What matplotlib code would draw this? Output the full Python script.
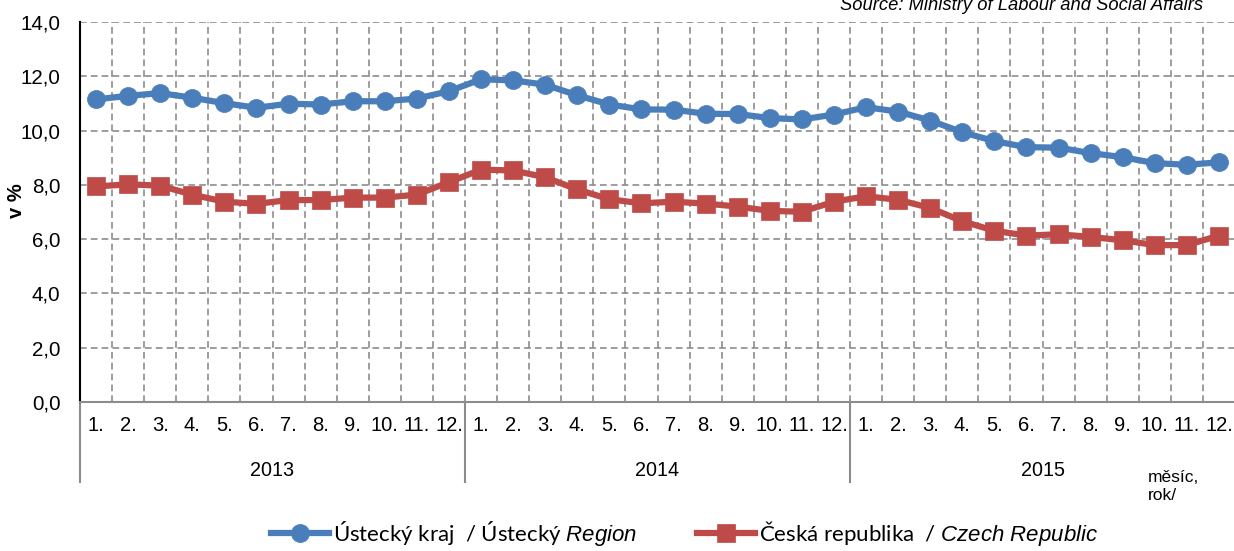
import matplotlib
matplotlib.use('Agg')
import numpy as np
from matplotlib import pyplot as plt
from matplotlib import transforms

plt.rcParams['font.family'] = ['Liberation Sans', 'DejaVu Sans']
plt.rcParams['mathtext.fontset'] = 'custom'
plt.rcParams['mathtext.it'] = 'Liberation Sans:italic'
plt.rcParams['mathtext.rm'] = 'Liberation Sans'

years = ['2013', '2014', '2015']
months = ['1.', '2.', '3.', '4.', '5.', '6.', '7.', '8.', '9.', '10.', '11.', '12.']

usti = [11.15, 11.28, 11.38, 11.21, 11.01, 10.84, 10.99, 10.96, 11.08, 11.08, 11.18, 11.45,
        11.89, 11.85, 11.69, 11.30, 10.96, 10.78, 10.77, 10.62, 10.61, 10.46, 10.41, 10.59,
        10.86, 10.70, 10.37, 9.94, 9.61, 9.39, 9.37, 9.17, 9.02, 8.80, 8.74, 8.83]
czech = [7.94, 8.02, 7.97, 7.64, 7.38, 7.30, 7.44, 7.44, 7.53, 7.53, 7.64, 8.10,
         8.56, 8.53, 8.28, 7.83, 7.47, 7.32, 7.38, 7.31, 7.20, 7.04, 7.01, 7.38,
         7.58, 7.45, 7.15, 6.66, 6.31, 6.13, 6.18, 6.08, 5.96, 5.78, 5.78, 6.13]

label_usti = 'Ústecký kraj  / Ústecký $\\mathit{Region}$'
label_czech = 'Česká republika  / $\\mathit{Czech\\ Republic}$'

BLUE = '#4A7EBB'
RED = '#BE4B48'
GRID = '#8C8C8C'

fig = plt.figure(figsize=(12.34, 5.51), dpi=100)
ax = fig.add_axes([80 / 1234, 1 - 402 / 551, 1155 / 1234, 380 / 551])

n = len(usti)
x = np.arange(n) + 0.5
l1, = ax.plot(x, usti, color=BLUE, lw=4.5, marker='o', ms=13, mec=BLUE, mew=0.5, clip_on=False, zorder=3)
l2, = ax.plot(x, czech, color=RED, lw=4.5, marker='s', ms=12.5, mec=RED, mew=0.5, clip_on=False, zorder=3)

ax.set_xlim(0, n)
ax.set_ylim(0, 14)
ax.set_yticks(np.arange(0, 15, 2))
ax.set_yticklabels([f'{v:.1f}'.replace('.', ',') for v in np.arange(0, 15, 2)], fontsize=14.8)
ax.set_xticks(np.arange(0, n + 1))
ax.set_xticklabels([])
ax.tick_params(axis='both', length=0)
ax.tick_params(axis='y', pad=14)
ax.grid(True, color=GRID, ls=(0, (4, 2.5)), lw=1.2)
ax.set_axisbelow(True)

for s in ['top', 'right']:
    ax.spines[s].set_visible(False)
ax.spines['left'].set_color('black')
ax.spines['left'].set_linewidth(1.5)
ax.spines['bottom'].set_color('#8C8C8C')
ax.spines['bottom'].set_linewidth(1.5)

ax.set_ylabel('v %', fontsize=14.5, fontweight='bold')
ax.yaxis.set_label_coords(-0.047, 0.53)

# hierarchical category axis
trans = transforms.blended_transform_factory(ax.transData, ax.transAxes)
for i in range(n):
    ax.text(x[i], -0.062, months[i % 12], transform=trans, ha='center', va='center', fontsize=14.5)
for k, yr in enumerate(years):
    ax.text(12 * k + 6, -0.179, yr, transform=trans, ha='center', va='center', fontsize=14.2)
for b in [0, 12, 24]:
    ax.plot([b, b], [0, -0.21], transform=trans, color='#8C8C8C', lw=1.5, clip_on=False)

fig.text(1148 / 1234, 1 - 478 / 551, 'měsíc,', fontsize=12.5, ha='left', va='center')
fig.text(1148 / 1234, 1 - 495 / 551, 'rok/', fontsize=12.5, ha='left', va='center')

fig.text(1203 / 1234, 1 - 10 / 551, 'Source: Ministry of Labour and Social Affairs',
         fontsize=13.2, style='italic', ha='right', va='baseline')

fig.legend([l1, l2], [label_usti, label_czech], loc='center', bbox_to_anchor=(0.555, 1 - 533 / 551),
           ncol=2, frameon=False, handlelength=2.6, handletextpad=0.18, borderpad=0.2,
           columnspacing=2.7, prop={'family': ['Lato', 'DejaVu Sans'], 'size': 16})

fig.savefig('out.png', dpi=100)
